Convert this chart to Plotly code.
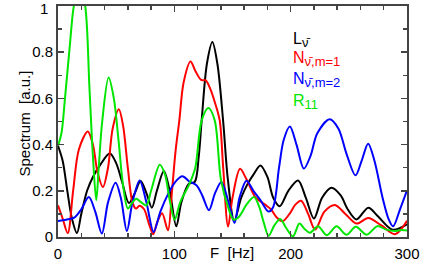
import plotly.graph_objects as go

# ---- data ----
black_x = [0, 4, 8, 12, 16.3, 20, 25, 30, 36, 44.5, 50, 55, 61, 66, 71, 76, 80.7, 85, 91, 96, 101.7, 106, 112.5, 117.5, 121, 123.5, 128, 132.7, 137, 141.9, 146, 151.5, 157.5, 163, 168, 174, 180, 185, 190.6, 198, 206.4, 213, 220, 227, 235, 243, 249, 256.5, 266.7, 275, 287.5, 300]
black_y = [0.395, 0.33, 0.2, 0.08, 0.017, 0.1, 0.2, 0.26, 0.31, 0.361, 0.32, 0.24, 0.147, 0.19, 0.242, 0.19, 0.127, 0.2, 0.286, 0.2, 0.046, 0.15, 0.231, 0.238, 0.35, 0.505, 0.75, 0.844, 0.75, 0.505, 0.25, 0.07, 0.17, 0.23, 0.27, 0.31, 0.26, 0.17, 0.133, 0.2, 0.245, 0.17, 0.08, 0.17, 0.213, 0.18, 0.12, 0.076, 0.127, 0.09, 0.032, 0.055]

red_x = [0, 4, 8.4, 13, 18, 25.6, 30, 34, 38.6, 43, 47, 52.3, 56, 60, 64, 67, 70, 74, 78, 81.8, 85, 89.5, 94.5, 98, 101, 104.3, 108, 113.9, 118, 123, 127, 131, 135, 139, 142, 146.2, 150, 156.5, 162, 170, 178, 183, 188, 193, 199, 204, 209, 215, 221, 229, 238, 247, 256.7, 266.7, 278, 289.7, 300]
red_y = [0.137, 0.08, 0.017, 0.2, 0.38, 0.457, 0.4, 0.28, 0.216, 0.3, 0.47, 0.553, 0.48, 0.3, 0.15, 0.123, 0.135, 0.12, 0.06, 0.012, 0.06, 0.103, 0.029, 0.2, 0.37, 0.505, 0.67, 0.76, 0.72, 0.68, 0.678, 0.64, 0.58, 0.505, 0.3, 0.045, 0.17, 0.295, 0.25, 0.17, 0.14, 0.12, 0.085, 0.068, 0.1, 0.14, 0.157, 0.1, 0.032, 0.11, 0.139, 0.1, 0.058, 0.082, 0.05, 0.012, 0.07]

blue_x = [0, 7, 14, 20, 26.5, 32, 37.7, 43, 49.5, 54, 59.2, 64, 70.2, 76, 82.2, 88, 95, 101, 106.9, 113, 119, 124, 129.8, 135, 140.5, 146, 151.7, 156, 162, 168, 174, 181, 185, 190, 194, 199.3, 205, 211.3, 217, 223, 233.5, 241, 248, 255.7, 261, 266.6, 272, 279, 284, 288, 294, 300]
blue_y = [0.069, 0.075, 0.084, 0.12, 0.173, 0.11, 0.015, 0.15, 0.235, 0.17, 0.026, 0.15, 0.245, 0.15, 0.022, 0.11, 0.19, 0.24, 0.263, 0.24, 0.224, 0.18, 0.116, 0.19, 0.238, 0.16, 0.061, 0.17, 0.244, 0.2, 0.16, 0.11, 0.13, 0.3, 0.42, 0.478, 0.4, 0.296, 0.35, 0.45, 0.51, 0.47, 0.36, 0.267, 0.33, 0.404, 0.33, 0.17, 0.08, 0.046, 0.12, 0.202]

green_x = [0, 3, 6, 10, 13.6, 18.5, 23.4, 27, 30, 32.9, 35, 38, 43.5, 48, 52, 56, 60.1, 64, 67.3, 71, 75.9, 80, 87.5, 92, 96, 100.3, 105, 113, 118, 123.5, 129.3, 134.7, 140, 146.2, 151, 156, 162, 168.5, 173, 177, 181, 186, 191, 196, 202, 207.5, 212, 216.5, 223.5, 231, 239.5, 248, 256, 265.3, 274.5, 282, 289.7, 295, 300]
green_y = [0.395, 0.45, 0.6, 0.82, 1.0, 1.1, 1.0, 0.65, 0.35, 0.159, 0.3, 0.5, 0.69, 0.6, 0.42, 0.22, 0.123, 0.15, 0.166, 0.152, 0.137, 0.2, 0.313, 0.27, 0.16, 0.075, 0.15, 0.23, 0.3, 0.505, 0.558, 0.505, 0.25, 0.13, 0.075, 0.09, 0.14, 0.173, 0.13, 0.06, 0.005, 0.05, 0.078, 0.04, 0.003, 0.058, 0.035, 0.018, 0.046, 0.008, 0.046, 0.01, 0.044, 0.01, 0.047, 0.032, 0.026, 0.03, 0.028]

x_tickvals = [0, 100, 200, 300]
y_tickvals = [0, 0.2, 0.4, 0.6, 0.8, 1]
y_ticktext = ["0", "0.2", "0.4", "0.6", "0.8", ""]
y_top_label = "1"

series = [
    (black_x, black_y, "black"),
    (red_x, red_y, "#ff0000"),
    (blue_x, blue_y, "#0000ff"),
    (green_x, green_y, "#00e600"),
]

FONT = "Liberation Sans, Arial, sans-serif"
fig = go.Figure()
for xs, ys, c in series:
    fig.add_trace(go.Scatter(x=xs, y=ys, mode="lines",
                             line=dict(color=c, width=2, shape="spline", smoothing=0.9),
                             showlegend=False, hoverinfo="skip"))

axis_common = dict(showgrid=False, zeroline=False, mirror="allticks", showline=True,
                   linecolor="#444444", linewidth=2, ticks="inside", ticklen=6,
                   tickcolor="#444444", tickwidth=1.5, automargin=False,
                   ticklabeloverflow="allow",
                   tickfont=dict(family=FONT, size=15, color="black"))

fig.update_xaxes(range=[0, 300], tickvals=x_tickvals, **axis_common, ticklabelstandoff=2,
                 minor=dict(dtick=20, tick0=0, ticks="inside", ticklen=4, tickcolor="#444444", tickwidth=1.5))
fig.update_yaxes(range=[0, 1], tickvals=y_tickvals, ticktext=y_ticktext, **axis_common,
                 minor=dict(dtick=0.1, tick0=0, ticks="inside", ticklen=4, tickcolor="#444444", tickwidth=1.5))

W, H = 421, 273
L, R, T, B = 58, 14, 6, 36
pw, ph = W - L - R, H - T - B

def px_to_paper(px, py):
    return (px - L) / pw, (H - B - py) / ph

# top "1" label, nudged so it stays inside the page
xt, yt = px_to_paper(49, 8.5)
fig.add_annotation(text=y_top_label, x=xt, y=yt, xref="paper", yref="paper", showarrow=False,
                   xanchor="right", yanchor="middle", borderpad=0,
                   font=dict(family=FONT, size=15, color="black"))

# axis titles (placed in page pixels)
xt, yt = px_to_paper(232, 263)
fig.add_annotation(text="F  [Hz]", x=xt, y=yt, xref="paper", yref="paper", showarrow=False,
                   font=dict(family=FONT, size=15, color="black"))
xt, yt = px_to_paper(13, 124)
fig.add_annotation(text="Spectrum  [a.u.]", x=xt, y=yt, xref="paper", yref="paper", showarrow=False,
                   textangle=-90, font=dict(family=FONT, size=15, color="black"))

SUB = "<sub><span style='font-size:13px'>%s</span></sub>"
labels = [
    ("L" + SUB % "ν̄", "black", 40),
    ("N" + SUB % "ν̄,m=1", "#ff0000", 59),
    ("N" + SUB % "ν̄,m=2", "#0000ff", 80),
    ("R" + SUB % "11", "#00e600", 102),
]
for t, c, py in labels:
    xx, yy = px_to_paper(291, py)
    fig.add_annotation(text=t, x=xx, y=yy, xref="paper", yref="paper",
                       xanchor="left", yanchor="middle", showarrow=False,
                       font=dict(family=FONT, size=16, color=c))

fig.update_layout(width=W, height=H, margin=dict(l=L, r=R, t=T, b=B, autoexpand=False),
                  plot_bgcolor="white", paper_bgcolor="white")
fig.write_html("out.html", config={"displayModeBar": False, "staticPlot": True},
               post_script="document.body.style.margin='0px';document.body.style.overflow='hidden';")
